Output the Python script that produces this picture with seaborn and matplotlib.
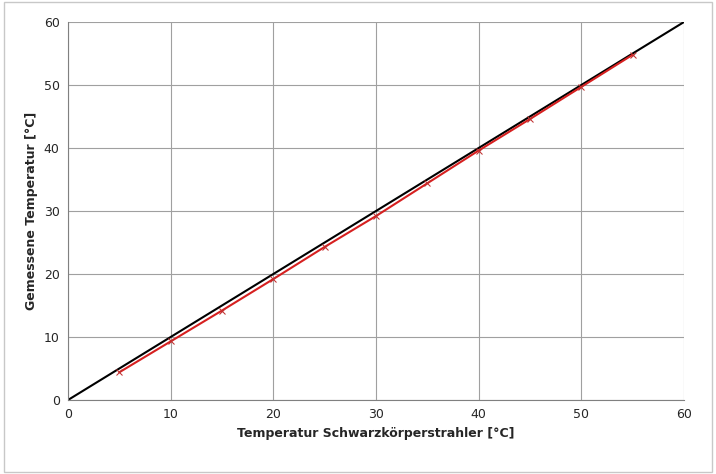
import seaborn as sns
import matplotlib.pyplot as plt
import pandas as pd

# reference line and measured values
ref_x = [0, 60]
ref_y = [0, 60]
blackbody_temp = [5, 10, 15, 20, 25, 30, 35, 40, 45, 50, 55]
measured_temp = [4.4, 9.3, 14.2, 19.2, 24.3, 29.2, 34.4, 39.6, 44.6, 49.7, 54.8]

sns.set_style("white")
plt.rcParams['font.family'] = ['DejaVu Sans']

fig = plt.figure(figsize=(7.16, 4.74), dpi=100)
ax = fig.add_axes([68 / 716, 74 / 474, 616 / 716, 378 / 474])

df = pd.DataFrame({'x': blackbody_temp, 'y': measured_temp})
sns.lineplot(x=ref_x, y=ref_y, color='black', linewidth=1.5, ax=ax)
sns.lineplot(data=df, x='x', y='y', color='#d62020', linewidth=1.5,
             marker='x', markersize=5, markeredgecolor='#c03030', ax=ax)

ax.set_xlim(0, 60)
ax.set_ylim(0, 60)
ax.set_xticks(range(0, 61, 10))
ax.set_yticks(range(0, 61, 10))
ax.grid(True, color='#a0a0a0', linewidth=0.8)
ax.set_axisbelow(True)
for s in ['top', 'right']:
    ax.spines[s].set_visible(False)
for s in ['left', 'bottom']:
    ax.spines[s].set_color('#808080')
ax.tick_params(labelsize=9, length=0, pad=6)
ax.set_xlabel('Temperatur Schwarzkörperstrahler [°C]', fontsize=9, fontweight='bold')
ax.set_ylabel('Gemessene Temperatur [°C]', fontsize=9, fontweight='bold')

fig.patches.append(plt.Rectangle((0.005, 0.005), 0.99, 0.99, transform=fig.transFigure,
                                 fill=False, edgecolor='#c8c8c8', linewidth=1))
fig.savefig('out.png', dpi=100)
